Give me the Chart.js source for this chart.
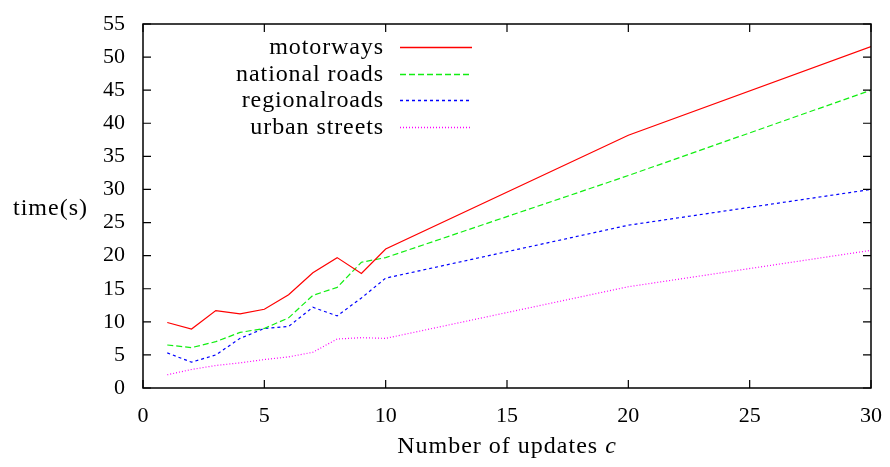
<!DOCTYPE html>
<html>
<head>
<meta charset="utf-8">
<script src="https://cdn.jsdelivr.net/npm/chart.js@4.4.0/dist/chart.umd.min.js"></script>
<style>
html, body { margin: 0; padding: 0; background: #fff; }
</style>
</head>
<body>
<canvas id="timeChart" width="890" height="467"></canvas>
<script>
// number of updates c on the x axis
const updates = [1, 2, 3, 4, 5, 6, 7, 8, 9, 10, 20, 30];

// time in seconds for each road class
const motorways = [9.9, 8.9, 11.7, 11.2, 11.9, 14.1, 17.4, 19.7, 17.3, 21.0, 38.2, 51.6];
const nationalRoads = [6.5, 6.1, 7.0, 8.4, 9.0, 10.6, 14.0, 15.2, 19.0, 19.7, 32.1, 45.0];
const regionalRoads = [5.3, 3.9, 5.0, 7.5, 9.0, 9.3, 12.2, 10.9, 13.6, 16.6, 24.6, 30.0];
const urbanStreets = [2.0, 2.8, 3.4, 3.8, 4.3, 4.7, 5.4, 7.4, 7.6, 7.5, 15.3, 20.8];

const seriesNames = ['motorways', 'national roads', 'regionalroads', 'urban streets'];
const xTickValues = [0, 5, 10, 15, 20, 25, 30];
const yTickValues = [0, 5, 10, 15, 20, 25, 30, 35, 40, 45, 50, 55];

const FONT = "'Liberation Serif', serif";
Chart.defaults.font.family = FONT;
Chart.defaults.color = '#000';

function points(values) {
    return updates.map((u, i) => ({ x: u, y: values[i] }));
}

const styles = [
    { color: '#ff0000', dash: [] },
    { color: '#11ee11', dash: [6, 3] },
    { color: '#0000ff', dash: [3, 3] },
    { color: '#ff00ff', dash: [1, 2] }
];

const allSeries = [motorways, nationalRoads, regionalRoads, urbanStreets];

// tick labels may hang past the frame, so drop the padding they ask for
function fixedBox(scale) {
    scale.paddingTop = 0;
    scale.paddingBottom = 0;
    scale.paddingLeft = 0;
    scale.paddingRight = 0;
}

// frame, inward ticks, key and axis titles drawn gnuplot style
const gnuplotLook = {
    id: 'gnuplotLook',
    afterDraw(chart) {
        const ctx = chart.ctx;
        const a = chart.chartArea;
        const xs = chart.scales.x;
        const ys = chart.scales.y;
        ctx.save();

        ctx.strokeStyle = '#000';
        ctx.lineWidth = 1.5;
        ctx.setLineDash([]);
        ctx.strokeRect(a.left, a.top, a.right - a.left, a.bottom - a.top);

        ctx.lineWidth = 1.2;
        ctx.beginPath();
        xTickValues.forEach(v => {
            const px = xs.getPixelForValue(v);
            ctx.moveTo(px, a.bottom);
            ctx.lineTo(px, a.bottom - 8);
            ctx.moveTo(px, a.top);
            ctx.lineTo(px, a.top + 8);
        });
        yTickValues.forEach(v => {
            const py = ys.getPixelForValue(v);
            ctx.moveTo(a.left, py);
            ctx.lineTo(a.left + 8, py);
            ctx.moveTo(a.right, py);
            ctx.lineTo(a.right - 8, py);
        });
        ctx.stroke();

        // key
        ctx.font = '24px ' + FONT;
        ctx.letterSpacing = '0.9px';
        ctx.textAlign = 'right';
        ctx.textBaseline = 'middle';
        seriesNames.forEach((name, i) => {
            const y = Math.round(47 + i * 26.5);
            ctx.fillStyle = '#000';
            ctx.fillText(name, 384, y + 1);
            ctx.strokeStyle = styles[i].color;
            ctx.lineWidth = 1.3;
            ctx.setLineDash(styles[i].dash);
            ctx.beginPath();
            ctx.moveTo(400, y + 0.5);
            ctx.lineTo(472, y + 0.5);
            ctx.stroke();
        });
        ctx.setLineDash([]);

        // axis titles
        ctx.fillStyle = '#000';
        ctx.letterSpacing = '1px';
        ctx.textAlign = 'left';
        ctx.textBaseline = 'middle';
        ctx.font = '24px ' + FONT;
        ctx.fillText('time(s)', 13, 209);

        const head = 'Number of updates ';
        const w1 = ctx.measureText(head).width;
        ctx.font = 'italic 24px ' + FONT;
        const w2 = ctx.measureText('c').width;
        const x0 = (a.left + a.right) / 2 - (w1 + w2) / 2;
        ctx.textBaseline = 'alphabetic';
        ctx.font = '24px ' + FONT;
        ctx.fillText(head, x0, 453);
        ctx.font = 'italic 24px ' + FONT;
        ctx.fillText('c', x0 + w1, 453);

        ctx.restore();
    }
};

new Chart(document.getElementById('timeChart'), {
    type: 'line',
    data: {
        datasets: allSeries.map((values, i) => ({
            label: seriesNames[i],
            data: points(values),
            borderColor: styles[i].color,
            borderDash: styles[i].dash,
            borderWidth: 1.2,
            pointRadius: 0,
            tension: 0,
            fill: false
        }))
    },
    options: {
        responsive: false,
        animation: false,
        layout: { padding: { left: 0, right: 19, top: 24, bottom: 0 } },
        plugins: {
            legend: { display: false },
            tooltip: { enabled: false }
        },
        scales: {
            x: {
                type: 'linear',
                min: 0,
                max: 30,
                grid: { display: false, drawTicks: false },
                border: { display: false },
                ticks: { stepSize: 5, padding: 15, font: { size: 22 } },
                afterFit(scale) { scale.height = 79; fixedBox(scale); }
            },
            y: {
                type: 'linear',
                min: 0,
                max: 55,
                grid: { display: false, drawTicks: false },
                border: { display: false },
                ticks: { stepSize: 5, padding: 18, font: { size: 22 } },
                afterFit(scale) { scale.width = 143; fixedBox(scale); }
            }
        }
    },
    plugins: [gnuplotLook]
});
</script>
</body>
</html>
